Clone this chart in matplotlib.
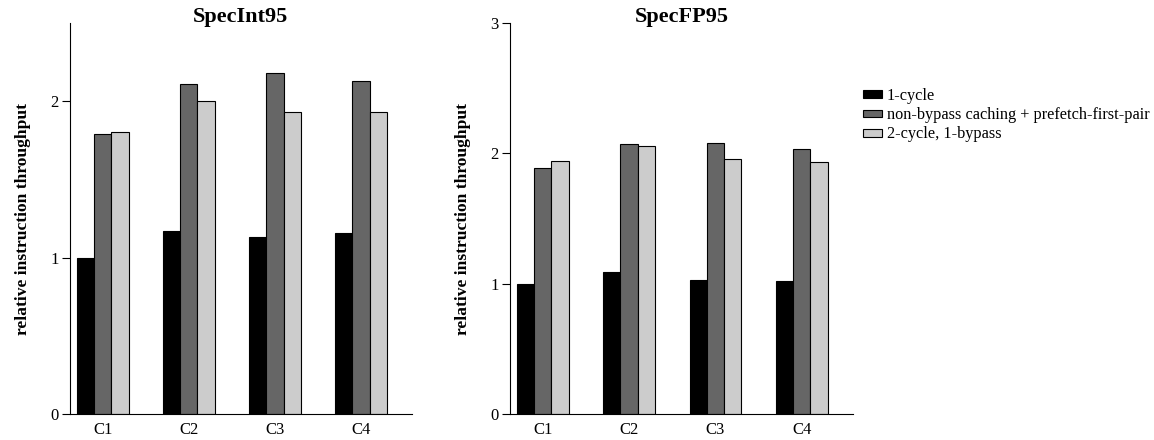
import numpy as np
import matplotlib
matplotlib.use('Agg')
import matplotlib.pyplot as plt

plt.rcParams['font.family'] = ['Liberation Serif', 'DejaVu Serif']

configs = ['C1', 'C2', 'C3', 'C4']
series_names = ['1-cycle',
                'non-bypass caching + prefetch-first-pair',
                '2-cycle, 1-bypass']
colors = ['#000000', '#666666', '#cccccc']

# SpecInt95
int_one_cycle = [1.00, 1.17, 1.13, 1.16]
int_nonbypass = [1.79, 2.11, 2.18, 2.13]
int_two_cycle = [1.80, 2.00, 1.93, 1.93]

# SpecFP95
fp_one_cycle = [1.00, 1.09, 1.03, 1.02]
fp_nonbypass = [1.89, 2.07, 2.08, 2.03]
fp_two_cycle = [1.94, 2.06, 1.96, 1.93]


def draw(ax, title, data, ymax, yticks):
    x = np.arange(len(configs))
    w = 0.2
    for i, vals in enumerate(data):
        ax.bar(x + (i - 1) * w, vals, w, color=colors[i], edgecolor='black',
               linewidth=0.8, label=series_names[i])
    ax.set_xlim(-0.38, 3.59)
    ax.set_ylim(0, ymax)
    ax.set_xticks(x)
    ax.set_xticklabels(configs, fontsize=12)
    ax.set_yticks(yticks)
    ax.set_yticklabels([str(t) for t in yticks], fontsize=12)
    ax.tick_params(axis='x', length=0, pad=6)
    ax.tick_params(axis='y', direction='out', length=6, width=0.8, pad=2)
    for s in ['top', 'right']:
        ax.spines[s].set_visible(False)
    ax.spines['left'].set_linewidth(0.8)
    ax.spines['bottom'].set_linewidth(0.8)
    ax.set_title(title, fontsize=16, fontweight='bold', y=1.003, pad=0)
    ax.set_ylabel('relative instruction throughput', fontsize=12.6,
                  fontweight='bold', labelpad=14)


fig = plt.figure(figsize=(11.54, 4.4), dpi=100)
ax1 = fig.add_axes([0.0607, 0.0591, 0.2961, 0.8886])
ax2 = fig.add_axes([0.4419, 0.0591, 0.2970, 0.8886])

draw(ax1, 'SpecInt95', [int_one_cycle, int_nonbypass, int_two_cycle], 2.5, [0, 1, 2])
draw(ax2, 'SpecFP95', [fp_one_cycle, fp_nonbypass, fp_two_cycle], 3, [0, 1, 2, 3])

handles, labels = ax1.get_legend_handles_labels()
fig.legend(handles, labels, loc='upper left', bbox_to_anchor=(863 / 1154, (440 - 88) / 440),
           frameon=False, fontsize=11.7, handlelength=1.15, handleheight=0.35,
           handletextpad=0.33, labelspacing=0.2, borderpad=0, borderaxespad=0)

fig.savefig('out.png', dpi=100)
